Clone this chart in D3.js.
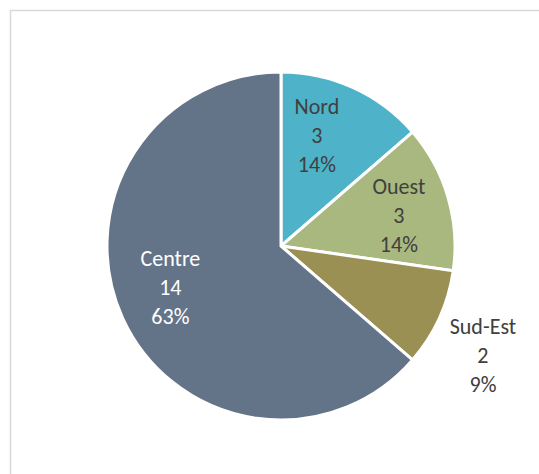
<!DOCTYPE html>
<html>
<head>
<meta charset="utf-8">
<script src="https://cdn.jsdelivr.net/npm/d3@7"></script>
<style>
  html, body { margin: 0; padding: 0; background: #fff; }
  svg { display: block; }
</style>
</head>
<body>
<svg id="chart" width="539" height="474"></svg>
<script>
// Slice data, clockwise from 12 o'clock
const categories = ["Nord", "Ouest", "Sud-Est", "Centre"];
const values = [3, 3, 2, 14];
const colors = ["#4eb3c8", "#a8b87e", "#9b9054", "#637488"];
const labelColors = ["#404040", "#404040", "#404040", "#ffffff"];

// Label placement: radius as a fraction of the pie radius, plus small nudges
const labelLayout = {
  "Nord":    { r: 0.69, dx: -14, dy: -2 },
  "Ouest":   { r: 0.70, dx: 1,   dy: 3 },
  "Sud-Est": { r: 1.32, dx: -7,  dy: 14 },
  "Centre":  { r: 0.68, dx: -3,  dy: -8 }
};

// Percentages rounded so that they add up to 100 (largest remainder)
function roundedPercents(vals) {
  const total = d3.sum(vals);
  const raw = vals.map(v => v / total * 100);
  const floors = raw.map(Math.floor);
  let left = 100 - d3.sum(floors);
  const order = d3.range(vals.length)
    .sort((a, b) => (raw[b] - floors[b]) - (raw[a] - floors[a]) || a - b);
  for (let k = 0; k < left; k++) floors[order[k]] += 1;
  return floors;
}
const percents = roundedPercents(values);

const svg = d3.select("#chart");
const W = 539, H = 474;

// Chart area frame
svg.append("rect")
  .attr("x", 10.5).attr("y", 10.5)
  .attr("width", W + 20).attr("height", H + 20)
  .attr("fill", "#fff")
  .attr("stroke", "#d9d9d9")
  .attr("stroke-width", 1.5);

const cx = 281, cy = 246, radius = 174;
const g = svg.append("g").attr("transform", `translate(${cx},${cy})`);

const data = categories.map((c, i) => ({
  name: c, value: values[i], color: colors[i], text: labelColors[i], pct: percents[i]
}));

const pie = d3.pie().sort(null).value(d => d.value);
const arcs = pie(data);
const arc = d3.arc().innerRadius(0).outerRadius(radius);

g.selectAll("path.slice")
  .data(arcs)
  .join("path")
  .attr("class", "slice")
  .attr("d", arc)
  .attr("fill", d => d.data.color)
  .attr("stroke", "#fff")
  .attr("stroke-width", 3)
  .attr("stroke-linejoin", "miter");

const fontSize = 22, lineH = 29;
const labels = g.selectAll("text.label")
  .data(arcs)
  .join("text")
  .attr("class", "label")
  .attr("text-anchor", "middle")
  .attr("font-family", "Carlito, Calibri, Lato, 'Open Sans', sans-serif")
  .attr("font-size", fontSize)
  .attr("fill", d => d.data.text)
  .attr("transform", d => {
    const L = labelLayout[d.data.name];
    const r = radius * L.r;
    const c = d3.arc().innerRadius(r).outerRadius(r).centroid(d);
    return `translate(${c[0] + L.dx},${c[1] + L.dy})`;
  });

labels.each(function(d) {
  const t = d3.select(this);
  const lines = [d.data.name, String(d.data.value), d.data.pct + "%"];
  lines.forEach((s, i) => {
    t.append("tspan")
      .attr("x", 0)
      .attr("y", (i - 1) * lineH + fontSize * 0.36)
      .text(s);
  });
});
</script>
</body>
</html>
